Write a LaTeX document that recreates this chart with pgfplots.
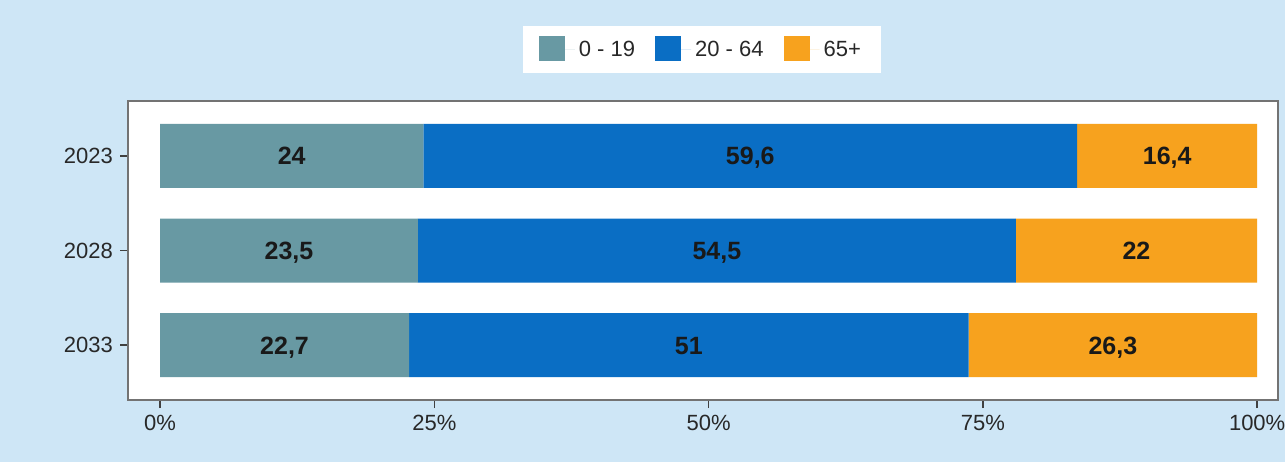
\documentclass[border=0pt]{standalone}
\usepackage{pgfplots}
\pgfplotsset{compat=1.18}
\usepackage{fontspec}
\setmainfont{Liberation Sans}
\definecolor{bgblue}{RGB}{206,230,246}
\definecolor{cteal}{RGB}{104,153,163}
\definecolor{cblue}{RGB}{10,110,196}
\definecolor{corange}{RGB}{247,162,30}
\definecolor{txt}{RGB}{40,40,40}

\pgfplotsset{
  common/.style={
    at={(0,0)}, anchor=south west,
    scale only axis, width=575pt, height=149.5pt,
    xmin=-2.92, xmax=101.9, ymin=-0.58, ymax=2.58,
  },
  seg/.style={draw=none, fill=#1,
    legend image code/.code={\fill[#1] (0pt,-5.5pt) rectangle (13pt,7pt);
      \path (13pt,0pt) -- (18pt,0pt);}},
}

\begin{document}
\begin{tikzpicture}[x=1pt,y=1pt]
\fill[bgblue] (-64,-31) rectangle (578.5,200);
\useasboundingbox (-64,-31) rectangle (578.5,200);
\begin{axis}[
  common,
  xbar stacked, bar width=32pt,
  ytick={0,1,2}, yticklabels={2033,2028,2023},
  xtick={0,25,50,75,100},
  xticklabel={\pgfmathprintnumber{\tick}\%},
  /pgf/number format/assume math mode=true,
  tick align=outside, major tick length=4pt,
  xtick pos=bottom, ytick pos=left,
  tick style={draw=black!75, line width=0.8pt},
  axis line style={draw=black!55, line width=0.8pt},
  axis background/.style={fill=white},
  ticklabel style={font=\fontsize{11}{13}\selectfont, text=txt},
  legend columns=3,
  legend style={at={(0.499,1.172)}, anchor=center, draw=none, fill=white,
    font=\fontsize{11}{13}\selectfont, text=txt,
    inner xsep=8pt, inner ysep=5pt,
    /tikz/every even column/.append style={column sep=8pt}},
]
\addplot[seg=cteal] coordinates {(24,2) (23.5,1) (22.7,0)};
\addplot[seg=cblue] coordinates {(59.6,2) (54.5,1) (51,0)};
\addplot[seg=corange] coordinates {(16.4,2) (22,1) (26.3,0)};
\legend{0 - 19, 20 - 64, 65+}
\end{axis}
\begin{axis}[
  common, hide axis,
  point meta=explicit symbolic,
  nodes near coords,
  every node near coord/.append style={anchor=center, text=black!90,
    text height=9pt, text depth=0pt,
    font=\fontsize{12.5}{14}\selectfont\bfseries},
]
\addplot[draw=none] coordinates {
  (12,2) [24] (11.75,1) [23,5] (11.35,0) [22,7]};
\addplot[draw=none] coordinates {
  (53.8,2) [59,6] (50.75,1) [54,5] (48.2,0) [51]};
\addplot[draw=none] coordinates {
  (91.8,2) [16,4] (89,1) [22] (86.85,0) [26,3]};
\end{axis}
\end{tikzpicture}
\end{document}
